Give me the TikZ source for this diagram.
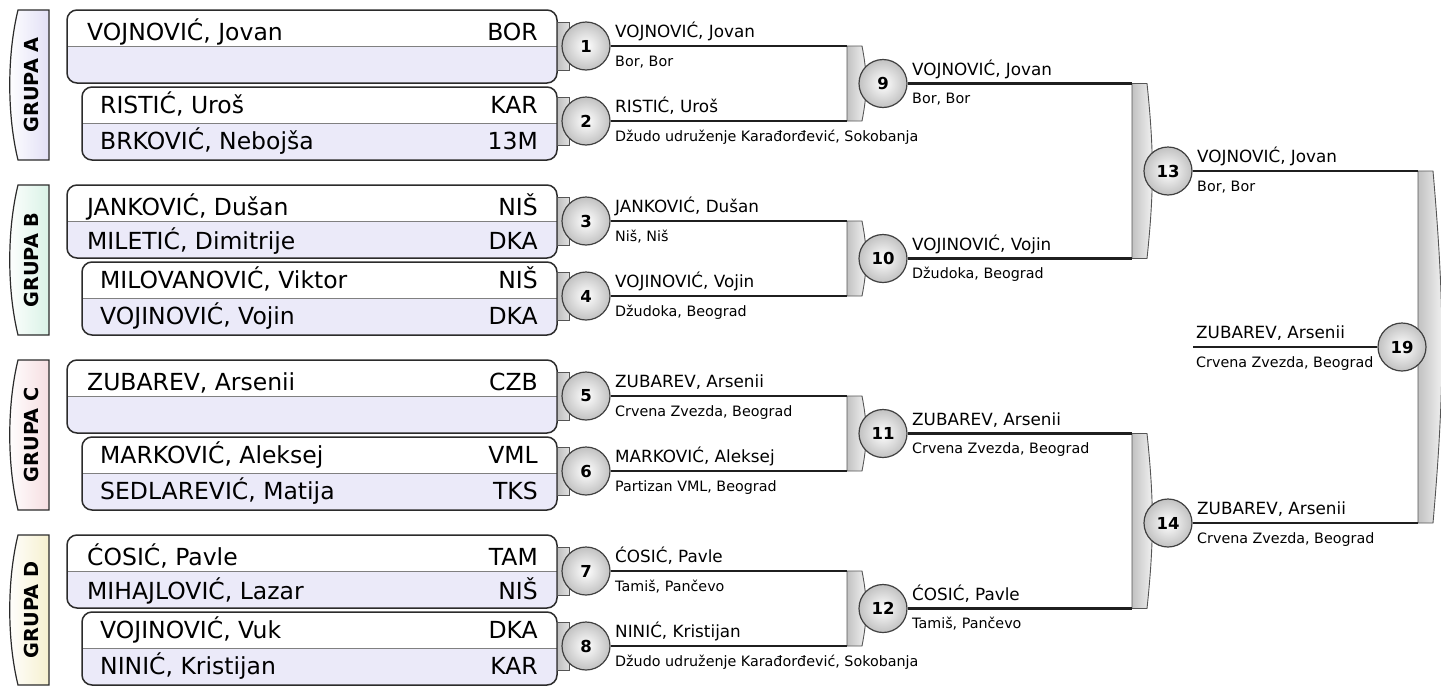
\documentclass[tikz,border=0pt]{standalone}
\usepackage{fontspec}
\setmainfont{DejaVu Sans}
\usetikzlibrary{positioning}
\definecolor{rowtint}{HTML}{EBEAF9}
\definecolor{grpA}{HTML}{E2E0F6}
\definecolor{grpB}{HTML}{D9F2E6}
\definecolor{grpC}{HTML}{F6DEE1}
\definecolor{grpD}{HTML}{F6F0CF}
\definecolor{rim}{HTML}{2B2B2B}

\begin{document}
\begin{tikzpicture}[x=1pt,y=-1pt,
    match node/.style={circle,draw=rim!90,line width=1.2pt,minimum size=48pt,inner sep=0pt,inner color=white,outer color=black!24,font=\fontsize{16.5}{18}\selectfont\bfseries},
    link/.style={draw=black!88,line width=2.4pt},
    bracketbar/.style={draw=rim!80,line width=0.9pt,left color=black!24,right color=black!4},
    tabstrip/.style={draw=rim!80,line width=0.9pt,left color=black!26,right color=black!12},
    entry box/.style={draw=rim,line width=1.5pt,rounded corners=10pt},
    player/.style={anchor=base west,inner sep=0pt,font=\fontsize{23.5}{27}\selectfont},
    club code/.style={anchor=base east,inner sep=0pt,font=\fontsize{23.5}{27}\selectfont},
    winner/.style={anchor=base west,inner sep=0pt,font=\fontsize{16.8}{19}\selectfont},
    club/.style={anchor=base west,inner sep=0pt,font=\fontsize{14.3}{17}\selectfont}]
    \useasboundingbox (0,0) rectangle (1441,691);

    % group tabs
    \foreach \g/\lab/\col in {0/A/grpA,1/B/grpB,2/C/grpC,3/D/grpD}{
        \pgfmathsetmacro\t{10+175*\g}
        \path[draw=rim,line width=1.2pt,left color=white,right color=\col]
            (18,\t) .. controls (7,\t+45) and (7,\t+105) .. (18,\t+150) -- (49,\t+150) -- (49,\t) -- cycle;
        \node[rotate=90,font=\fontsize{19.3}{22}\selectfont\bfseries] (grp\lab) at (31,\t+75) {GRUPA \lab};
    }

    % entry boxes
    \foreach \g in {0,...,3}{
        \foreach \b/\x in {0/67,1/82}{
            \pgfmathsetmacro\t{10+175*\g+77*\b}
            \begin{scope}
                \clip[rounded corners=10pt] (\x,\t) rectangle (557,\t+73);
                \fill[rowtint] (\x,\t+36.5) rectangle (557,\t+73);
            \end{scope}
            \draw[rim!60,line width=0.8pt] (\x,\t+36.5) -- (557,\t+36.5);
            \path[entry box] (\x,\t) rectangle (557,\t+73);
        }
    }

    \foreach \g/\r/\who/\cc in {0/0/{VOJNOVIĆ, Jovan}/BOR,0/2/{RISTIĆ, Uroš}/KAR,0/3/{BRKOVIĆ, Nebojša}/13M,
        1/0/{JANKOVIĆ, Dušan}/NIŠ,1/1/{MILETIĆ, Dimitrije}/DKA,1/2/{MILOVANOVIĆ, Viktor}/NIŠ,1/3/{VOJINOVIĆ, Vojin}/DKA,
        2/0/{ZUBAREV, Arsenii}/CZB,2/2/{MARKOVIĆ, Aleksej}/VML,2/3/{SEDLAREVIĆ, Matija}/TKS,
        3/0/{ĆOSIĆ, Pavle}/TAM,3/1/{MIHAJLOVIĆ, Lazar}/NIŠ,3/2/{VOJINOVIĆ, Vuk}/DKA,3/3/{NINIĆ, Kristijan}/KAR}{
        \pgfmathsetmacro\yb{10+175*\g+{30,64,103,139}[\r]}
        \pgfmathsetmacro\xa{\r<2 ? 87 : 100}
        \node[player] (p\g\r) at (\xa,\yb) {\who};
        \node[club code] (c\g\r) at (538,\yb) {\cc};
    }

    % bracket ends
    \coordinate (k9-a) at (847,46);      \coordinate (k9-b) at (847,121);
    \coordinate (k10-a) at (847,221);    \coordinate (k10-b) at (847,296);
    \coordinate (k11-a) at (847,396);    \coordinate (k11-b) at (847,471);
    \coordinate (k12-a) at (847,571);    \coordinate (k12-b) at (847,646);
    \coordinate (k13-a) at (1132,83.5);  \coordinate (k13-b) at (1132,258.5);
    \coordinate (k14-a) at (1132,433.5); \coordinate (k14-b) at (1132,608.5);
    \coordinate (k19-a) at (1418,171);   \coordinate (k19-b) at (1418,523);
    \coordinate (t19) at (1193,347);

    \foreach \k/\bend in {9/11,10/11,11/11,12/11,13/6,14/6,19/5}{
        \path[bracketbar] (k\k-a) -- ++(15,0) to[bend left=\bend] ([xshift=15pt]k\k-b) -- (k\k-b) -- cycle;
    }

    % matches
    \foreach \n/\cx/\cy/\who/\from in {1/586/46/{VOJNOVIĆ, Jovan}/{Bor, Bor},
        2/586/121/{RISTIĆ, Uroš}/{Džudo udruženje Karađorđević, Sokobanja},
        3/586/221/{JANKOVIĆ, Dušan}/{Niš, Niš},
        4/586/296/{VOJINOVIĆ, Vojin}/{Džudoka, Beograd},
        5/586/396/{ZUBAREV, Arsenii}/{Crvena Zvezda, Beograd},
        6/586/471/{MARKOVIĆ, Aleksej}/{Partizan VML, Beograd},
        7/586/571/{ĆOSIĆ, Pavle}/{Tamiš, Pančevo},
        8/586/646/{NINIĆ, Kristijan}/{Džudo udruženje Karađorđević, Sokobanja},
        9/883/83.5/{VOJNOVIĆ, Jovan}/{Bor, Bor},
        10/883/258.5/{VOJINOVIĆ, Vojin}/{Džudoka, Beograd},
        11/883/433.5/{ZUBAREV, Arsenii}/{Crvena Zvezda, Beograd},
        12/883/608.5/{ĆOSIĆ, Pavle}/{Tamiš, Pančevo},
        13/1168/171/{VOJNOVIĆ, Jovan}/{Bor, Bor},
        14/1168/523/{ZUBAREV, Arsenii}/{Crvena Zvezda, Beograd}}{
        \ifnum\n<9 \path[tabstrip] (557,\cy-24) rectangle (569,\cy+24); \fi
        \node[match node] (m\n) at (\cx,\cy) {\n};
        \node[winner] (w\n) at (\cx+29,\cy-8.5) {\who};
        \node[club] (f\n) at (\cx+29,\cy+20) {\from};
    }
    \node[match node] (m19) at (1402,347) {19};
    \node[winner] (w19) at (1196,338) {ZUBAREV, Arsenii};
    \node[club] (f19) at (1196,367) {Crvena Zvezda, Beograd};

    \path[link]
        (m1) edge (k9-a)   (m2) edge (k9-b)
        (m3) edge (k10-a)  (m4) edge (k10-b)
        (m5) edge (k11-a)  (m6) edge (k11-b)
        (m7) edge (k12-a)  (m8) edge (k12-b)
        (m9) edge (k13-a)  (m10) edge (k13-b)
        (m11) edge (k14-a) (m12) edge (k14-b)
        (m13) edge (k19-a) (m14) edge (k19-b)
        (m19) edge (t19)
        ;
\end{tikzpicture}
\end{document}
